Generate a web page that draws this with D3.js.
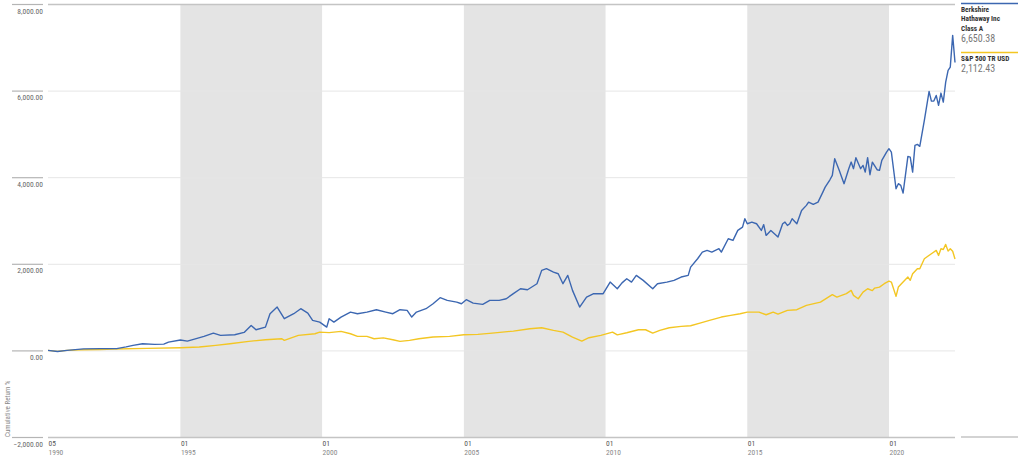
<!DOCTYPE html>
<html>
<head>
<meta charset="utf-8">
<script src="https://cdn.jsdelivr.net/npm/d3@7"></script>
<style>
  html, body { margin: 0; padding: 0; background: #fff; }
  svg { display: block; }
  text { font-family: "Roboto Condensed", "Liberation Sans Narrow", "Arial Narrow", "Roboto", sans-serif; }
</style>
</head>
<body>
<svg id="chart" width="1024" height="462"></svg>
<script>
// ---------------- data ----------------
const brkDates = ["1990-05","1990-09","1991-01","1991-08","1992-03","1992-10","1993-02","1993-05","1993-09","1994-02","1994-06","1994-08","1995-01","1995-04","1995-07","1995-11","1996-03","1996-06","1996-12","1997-04","1997-07","1997-09","1998-01","1998-03","1998-06","1998-09","1999-01","1999-04","1999-07","1999-09","1999-12","2000-03","2000-04","2000-06","2000-09","2001-01","2001-04","2001-08","2001-12","2002-04","2002-07","2002-10","2003-01","2003-03","2003-05","2003-09","2003-12","2004-03","2004-06","2004-10","2004-12","2005-02","2005-05","2005-09","2005-12","2006-04","2006-07","2006-10","2007-01","2007-04","2007-08","2007-10","2007-12","2008-03","2008-05","2008-07","2008-09","2008-11","2009-02","2009-05","2009-08","2009-12","2010-03","2010-06","2010-08","2010-10","2010-12","2011-02","2011-05","2011-09","2011-11","2012-03","2012-06","2012-09","2012-12","2013-01","2013-04","2013-06","2013-08","2013-10","2014-01","2014-02","2014-05","2014-07","2014-09","2014-11","2014-12","2015-01","2015-03","2015-05","2015-07","2015-08","2015-09","2015-11","2016-02","2016-04","2016-05","2016-06","2016-07","2016-08","2016-10","2016-12","2017-02","2017-03","2017-05","2017-07","2017-09","2017-10","2017-12","2018-01","2018-02","2018-04","2018-06","2018-08","2018-09","2018-10","2018-11","2019-01","2019-02","2019-03","2019-04","2019-05","2019-06","2019-08","2019-09","2019-10","2019-12","2020-01","2020-02","2020-04","2020-05","2020-06","2020-07","2020-09","2020-10","2020-11","2020-12","2021-01","2021-02","2021-04","2021-06","2021-07","2021-08","2021-09","2021-10","2021-11","2021-12","2022-01","2022-02","2022-03","2022-04","2022-05"];
const brkValues = [0,-25,0,35,40,40,80,115,155,140,145,190,240,215,260,323,400,346,362,415,577,477,538,847,1000,732,847,963,860,693,654,538,732,654,770,885,847,885,940,885,847,940,924,770,885,963,1078,1217,1155,1116,1078,1170,1093,1062,1155,1155,1194,1310,1424,1401,1540,1848,1887,1809,1771,1540,1732,1386,1000,1231,1310,1310,1578,1424,1560,1656,1578,1732,1617,1424,1540,1578,1617,1694,1732,1924,2117,2270,2309,2270,2348,2270,2579,2540,2771,2848,3041,2925,2963,2925,2771,2905,2656,2771,2617,2925,2963,2887,2925,3041,2925,3233,3349,3425,3372,3425,3656,3771,3941,4041,4427,4157,3850,4196,4349,4196,4450,4196,4273,4118,4450,4057,4349,4173,4157,4388,4580,4658,4580,3734,3850,3811,3633,4480,4465,4118,4734,4758,4712,5312,5982,5758,5758,5889,5658,5943,5735,6197,6467,6543,7275,6650.38];

const spDates = ["1990-05","1990-09","1991-01","1991-07","1992-03","1992-09","1993-11","1995-01","1995-09","1996-04","1996-10","1997-06","1998-01","1998-08","1998-09","1999-03","1999-10","1999-12","2000-04","2000-09","2001-01","2001-04","2001-08","2001-11","2002-03","2002-07","2002-10","2003-02","2003-06","2003-12","2004-07","2005-01","2005-07","2006-01","2006-10","2007-05","2007-10","2008-03","2008-07","2008-11","2009-03","2009-06","2009-11","2010-04","2010-06","2010-10","2011-03","2011-06","2011-09","2011-12","2012-04","2012-09","2013-01","2013-05","2013-09","2014-02","2014-06","2014-10","2015-01","2015-06","2015-09","2015-12","2016-02","2016-06","2016-10","2017-02","2017-08","2018-01","2018-03","2018-07","2018-09","2018-10","2018-12","2019-02","2019-04","2019-06","2019-07","2019-09","2019-11","2020-01","2020-02","2020-04","2020-05","2020-07","2020-09","2020-10","2020-11","2021-01","2021-02","2021-04","2021-07","2021-09","2021-10","2021-11","2021-12","2022-01","2022-02","2022-03","2022-04","2022-05"];
const spValues = [0,-23,0,15,22,31,46,62,77,115,154,208,247,270,231,346,385,423,410,439,385,323,323,270,290,247,208,231,270,308,323,362,370,400,446,500,524,462,423,308,215,293,346,423,360,408,477,477,400,462,524,554,570,631,693,770,808,847,885,885,824,885,840,924,940,1040,1116,1286,1231,1310,1386,1270,1193,1347,1424,1380,1439,1462,1540,1601,1578,1247,1462,1578,1694,1617,1771,1887,1887,2117,2233,2309,2194,2348,2330,2448,2293,2348,2290,2112.43];

const yTicks = [-2000, 0, 2000, 4000, 6000, 8000];
const xTickDates = ["1990-05","1995-01","2000-01","2005-01","2010-01","2015-01","2020-01"];
const xTickMonths = ["05","01","01","01","01","01","01"];
const xTickYears = ["1990","1995","2000","2005","2010","2015","2020"];
const bandStarts = ["1995-01","2005-01","2015-01"];
const bandEnds = ["2000-01","2010-01","2020-01"];
const seriesNames = [["Berkshire","Hathaway Inc","Class A"], ["S&P 500 TR USD"]];
const seriesLast = ["6,650.38", "2,112.43"];
const seriesColors = ["#3c67b1", "#f3c623"];
const yTitle = "Cumulative Return %";
const xStart = "1990-05", xEnd = "2022-05";

// ---------------- chart ----------------
const parse = d3.timeParse("%Y-%m");
const svg = d3.select("#chart");
const L = 48, R = 955, T = 4, B = 437;

const x = d3.scaleTime().domain([parse(xStart), parse(xEnd)]).range([L, R]);
const y = d3.scaleLinear().domain([-2000, 8000]).range([B, T]);

// shaded bands
svg.append("g").selectAll("rect").data(bandStarts.map((s, i) => [parse(s), parse(bandEnds[i])]))
  .join("rect")
  .attr("x", d => x(d[0])).attr("width", d => x(d[1]) - x(d[0]))
  .attr("y", T).attr("height", B - T)
  .attr("fill", "#e4e4e4");

// gridlines
const grid = svg.append("g").attr("transform", `translate(${L},0)`)
  .call(d3.axisLeft(y).tickValues(yTicks).tickSize(-(R - L)).tickFormat(""));
grid.select(".domain").remove();
grid.selectAll(".tick line").attr("stroke", d => (d === 8000 || d === -2000) ? "#c4c4c4" : "#e6e6e6")
  .attr("stroke-width", d => (d === 8000 || d === -2000) ? 1.5 : 1);

// y axis ticks + labels
const fmt = d3.format(",.2f");
const yAxis = svg.append("g").attr("transform", "translate(43,0)")
  .call(d3.axisLeft(y).tickValues(yTicks).tickSize(31).tickFormat(d => fmt(d)));
yAxis.select(".domain").remove();
yAxis.selectAll(".tick line").attr("stroke", "#b5b5b5").attr("stroke-width", 1.2);
yAxis.selectAll(".tick text")
  .attr("x", 0).attr("dy", null).attr("y", 9)
  .attr("text-anchor", "end")
  .attr("fill", "#666").style("font-size", "7.5px");

// y title
svg.append("text")
  .attr("transform", "translate(10,437) rotate(-90)")
  .attr("text-anchor", "start")
  .attr("fill", "#888").style("font-size", "7px")
  .text(yTitle);

// x axis
const xAxis = svg.append("g").attr("transform", `translate(0,${B})`)
  .call(d3.axisBottom(x).tickValues(xTickDates.map(parse)).tickSize(0).tickFormat(""));
xAxis.select(".domain").remove();
xAxis.selectAll(".tick").each(function(d, i) {
  const t = d3.select(this);
  t.append("text").attr("x", 0).attr("y", 9).attr("text-anchor", "start")
    .attr("fill", "#555").style("font-size", "7.5px").text(xTickMonths[i]);
  t.append("text").attr("x", 0).attr("y", 18).attr("text-anchor", "start")
    .attr("fill", "#888").style("font-size", "7.5px").text(xTickYears[i]);
});

// lines
const line = d3.line().x(d => x(d[0])).y(d => y(d[1])).curve(d3.curveLinear);
const spData = spDates.map((d, i) => [parse(d), spValues[i]]);
const brkData = brkDates.map((d, i) => [parse(d), brkValues[i]]);
svg.append("path").datum(spData).attr("d", line)
  .attr("fill", "none").attr("stroke", seriesColors[1]).attr("stroke-width", 1.4).attr("stroke-linejoin", "round");
svg.append("path").datum(brkData).attr("d", line)
  .attr("fill", "none").attr("stroke", seriesColors[0]).attr("stroke-width", 1.4).attr("stroke-linejoin", "round");

// legend
const LX = 961, LW = 57;
const lg = svg.append("g");
const legendTops = [3.5, 52.5];
seriesNames.forEach((names, i) => {
  const top = legendTops[i];
  lg.append("line").attr("x1", LX).attr("x2", LX + LW).attr("y1", top).attr("y2", top)
    .attr("stroke", seriesColors[i]).attr("stroke-width", 1.5);
  names.forEach((n, j) => {
    lg.append("text").attr("x", LX).attr("y", top + 8.5 + j * 9.3)
      .attr("fill", "#333").style("font-size", "7.3px").style("font-weight", "bold").text(n);
  });
  lg.append("text").attr("x", LX).attr("y", top + 8.5 + (names.length - 1) * 9.3 + 11)
    .attr("fill", "#777").style("font-size", "10px").text(seriesLast[i]);
});
lg.append("line").attr("x1", LX).attr("x2", LX + LW).attr("y1", B).attr("y2", B)
  .attr("stroke", "#c4c4c4").attr("stroke-width", 1.5);
</script>
</body>
</html>
